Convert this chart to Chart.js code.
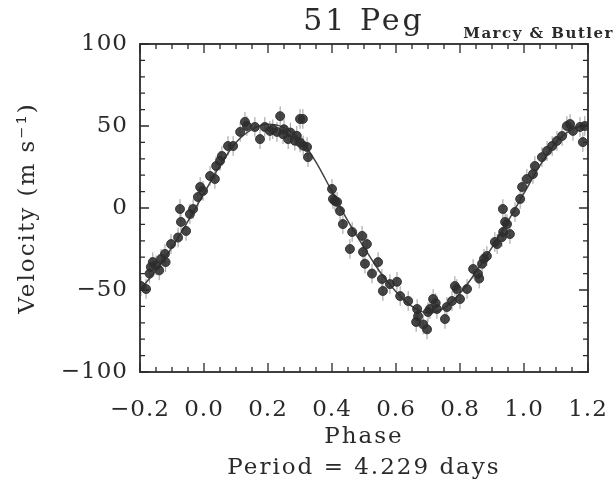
<!DOCTYPE html>
<html>
<head>
<meta charset="utf-8">
<script src="https://cdn.jsdelivr.net/npm/chart.js@4.4.1/dist/chart.umd.min.js"></script>
<style>
  html, body { margin: 0; padding: 0; background: #fff; }
  #wrap { position: relative; width: 616px; height: 487px; }
</style>
</head>
<body>
<div id="wrap"><canvas id="rvChart" width="616" height="487"></canvas></div>
<script>
const phases = [
  -0.197, -0.181, -0.170, -0.166, -0.160, -0.150, -0.140, -0.134, -0.122, -0.120,
  -0.103, -0.081, -0.075, -0.072, -0.056, -0.044, -0.034, -0.019, -0.012, -0.003,
  0.019, 0.034, 0.038, 0.050, 0.056, 0.075, 0.091, 0.113, 0.128, 0.134,
  0.159, 0.175, 0.190, 0.206, 0.215, 0.228, 0.238, 0.247, 0.250, 0.263,
  0.270, 0.284, 0.290, 0.300, 0.300, 0.309, 0.310, 0.322, 0.325,
  0.400, 0.403, 0.409, 0.416, 0.425, 0.434, 0.456, 0.463, 0.494, 0.497,
  0.503, 0.509, 0.525, 0.544, 0.556, 0.559, 0.581, 0.603, 0.613, 0.638,
  0.663, 0.666, 0.669, 0.685, 0.697, 0.700, 0.706, 0.716, 0.724, 0.728,
  0.753, 0.759, 0.775, 0.784, 0.790, 0.800, 0.822, 0.841, 0.856, 0.860,
  0.869, 0.875, 0.884, 0.909, 0.916, 0.931, 0.935, 0.934, 0.941, 0.947,
  0.956, 0.972, 0.988, 0.994, 1.009, 1.028, 1.034, 1.056, 1.072, 1.088,
  1.103, 1.119, 1.134, 1.144, 1.153, 1.175, 1.184, 1.190
];
const velocities = [
  -47.6, -49.4, -40, -36, -33, -35, -38, -31, -28, -33,
  -22, -18, -0.6, -8.5, -14, -3.7, -0.6, 6.7, 12.8, 10.4,
  19.5, 17.7, 25.6, 28.7, 31.7, 37.8, 37.8, 46.4, 52.5, 50,
  49.4, 42, 49.4, 47, 48, 46.4, 56, 45, 48, 42,
  46, 41, 44, 54.3, 40, 54.3, 38, 37.2, 31,
  11.6, 5.5, 4.3, 3.7, -1.8, -9.8, -25, -14.6, -17, -26.8,
  -34, -22, -40, -33, -43.3, -50.6, -46.4, -45, -53.7, -56.7,
  -69.5, -61.6, -66, -71, -74, -63.4, -61.6, -55.5, -58, -61.6,
  -67.7, -60.4, -56.7, -47.6, -49.4, -55.5, -49.4, -37.2, -40.2, -43,
  -34, -31, -29.3, -20.7, -22, -17.7, -14.6, -0.6, -8.5, -9.8,
  -15.9, -2.4, 5.5, 12.8, 17.7, 20.7, 25.6, 31, 34.8, 37.8,
  40.9, 43.9, 50, 51.2, 47, 49.4, 40.2, 50
];

// fitted orbit curve
const fitPhases = [
  -0.20, -0.15, -0.10, -0.05, 0.00, 0.05, 0.10, 0.15, 0.20, 0.25,
  0.30, 0.35, 0.40, 0.45, 0.50, 0.55, 0.60, 0.65, 0.70, 0.75,
  0.80, 0.85, 0.90, 0.95, 1.00, 1.05, 1.10, 1.15, 1.20
];
const fitVelocities = [
  -50, -38, -24, -8, 9, 26, 40, 48, 51, 49,
  42, 28, 10, -8, -24, -39, -51, -60, -64, -61,
  -52, -39, -24, -8, 9, 26, 40, 48, 51
];

const xTicks = [-0.2, 0.0, 0.2, 0.4, 0.6, 0.8, 1.0, 1.2];
const yTicks = [-100, -50, 0, 50, 100];
const errBar = 6; // m/s, rough size of the error bars

const serif = "'DejaVu Serif', 'Liberation Serif', serif";
const ink = '#2a2a2a';
const minus = (s) => s.replace('-', '\u2212');

// error bars behind the points; wider letter spacing for the tick labels
const errorBars = {
  id: 'errorBars',
  beforeDraw(chart) {
    chart.ctx.letterSpacing = '1px';
  },
  beforeDatasetsDraw(chart) {
    const { ctx, scales: { x, y } } = chart;
    ctx.save();
    ctx.strokeStyle = 'rgba(120,120,120,0.75)';
    ctx.lineWidth = 1;
    phases.forEach((p, i) => {
      const px = x.getPixelForValue(p);
      ctx.beginPath();
      ctx.moveTo(px, y.getPixelForValue(velocities[i] - errBar));
      ctx.lineTo(px, y.getPixelForValue(velocities[i] + errBar));
      ctx.stroke();
    });
    ctx.restore();
  }
};

// boxed frame with inward major/minor ticks, plus all the titles
const frame = {
  id: 'frame',
  afterDraw(chart) {
    const { ctx, chartArea: a, scales: { x, y } } = chart;
    ctx.save();
    ctx.strokeStyle = ink;
    ctx.lineWidth = 1.8;
    ctx.strokeRect(a.left, a.top, a.right - a.left, a.bottom - a.top);

    ctx.lineWidth = 1.3;
    ctx.beginPath();
    for (let i = 0; i <= 28; i++) {
      const px = x.getPixelForValue(-0.2 + i * 0.05);
      const len = i % 4 === 0 ? 9 : 5;
      ctx.moveTo(px, a.bottom); ctx.lineTo(px, a.bottom - len);
      ctx.moveTo(px, a.top); ctx.lineTo(px, a.top + len);
    }
    for (let i = 0; i <= 20; i++) {
      const py = y.getPixelForValue(-100 + i * 10);
      const len = i % 5 === 0 ? 9 : 5;
      ctx.moveTo(a.left, py); ctx.lineTo(a.left + len, py);
      ctx.moveTo(a.right, py); ctx.lineTo(a.right - len, py);
    }
    ctx.stroke();

    const cx = (a.left + a.right) / 2;
    ctx.fillStyle = ink;
    ctx.textBaseline = 'middle';
    ctx.textAlign = 'center';

    ctx.letterSpacing = '3px';
    ctx.font = `30px ${serif}`;
    ctx.fillText('51 Peg', cx, 22);

    ctx.letterSpacing = '2px';
    ctx.font = `23px ${serif}`;
    ctx.fillText('Phase', cx, 437);
    ctx.fillText('Period = 4.229 days', cx, 468);

    ctx.save();
    ctx.translate(28, (a.top + a.bottom) / 2);
    ctx.rotate(-Math.PI / 2);
    ctx.fillText('Velocity (m s\u207B\u00B9)', 0, 0);
    ctx.restore();

    ctx.textAlign = 'right';
    ctx.letterSpacing = '1.5px';
    ctx.font = `bold 15px ${serif}`;
    ctx.fillText('Marcy & Butler', 614, 34);
    ctx.restore();
    ctx.letterSpacing = '0px';
  }
};

new Chart(document.getElementById('rvChart'), {
  type: 'scatter',
  data: {
    datasets: [
      {
        type: 'line',
        data: fitPhases.map((p, i) => ({ x: p, y: fitVelocities[i] })),
        borderColor: '#444',
        borderWidth: 1.5,
        pointRadius: 0,
        cubicInterpolationMode: 'monotone',
        fill: false,
        order: 2
      },
      {
        data: phases.map((p, i) => ({ x: p, y: velocities[i] })),
        backgroundColor: 'rgba(45,45,45,0.88)',
        borderColor: 'rgba(45,45,45,0.88)',
        pointRadius: 4.5,
        pointHoverRadius: 4.5,
        order: 1
      }
    ]
  },
  options: {
    responsive: false,
    animation: false,
    layout: { padding: { top: 44, right: 28, left: 0, bottom: 0 } },
    plugins: { legend: { display: false }, tooltip: { enabled: false } },
    scales: {
      x: {
        type: 'linear',
        min: -0.2,
        max: 1.2,
        afterBuildTicks: (s) => { s.ticks = xTicks.map(v => ({ value: v })); },
        afterFit: (s) => { s.height = 115; s.paddingLeft = 0; s.paddingRight = 0; },
        grid: { display: false, drawTicks: false },
        border: { display: false },
        ticks: {
          padding: 24,
          color: ink,
          font: { family: serif, size: 23 },
          callback: (v) => minus(Number(v).toFixed(1))
        }
      },
      y: {
        min: -100,
        max: 100,
        afterBuildTicks: (s) => { s.ticks = yTicks.map(v => ({ value: v })); },
        afterFit: (s) => { s.width = 140; s.paddingTop = 0; s.paddingBottom = 0; },
        grid: { display: false, drawTicks: false },
        border: { display: false },
        ticks: {
          padding: 12,
          color: ink,
          font: { family: serif, size: 23 },
          callback: (v) => minus(String(v))
        }
      }
    }
  },
  plugins: [errorBars, frame]
});
</script>
</body>
</html>
